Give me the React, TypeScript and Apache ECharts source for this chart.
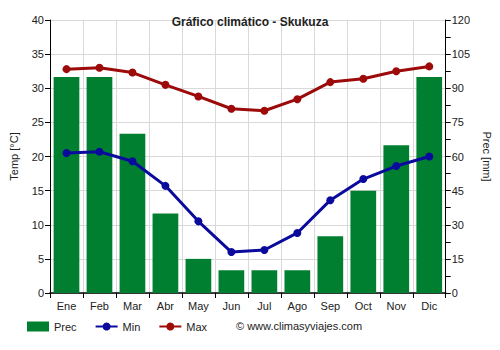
import React, { useEffect, useRef } from "react";
import * as echarts from "echarts";

const months = ["Ene", "Feb", "Mar", "Abr", "May", "Jun", "Jul", "Ago", "Sep", "Oct", "Nov", "Dic"];
const prec = [95, 95, 70, 35, 15, 10, 10, 10, 25, 45, 65, 95];
const tMin = [20.5, 20.7, 19.3, 15.7, 10.5, 6.0, 6.3, 8.8, 13.6, 16.7, 18.6, 20.0];
const tMax = [32.8, 33.0, 32.3, 30.5, 28.8, 27.0, 26.7, 28.4, 30.9, 31.4, 32.5, 33.2];

const FONT = "'Liberation Sans', Arial, sans-serif";

export default function App() {
  const ref = useRef<HTMLDivElement>(null);
  useEffect(() => {
    if (!ref.current) return;
    const chart = echarts.init(ref.current, null, { renderer: "svg" });
    chart.setOption({
      animation: false,
      textStyle: { fontFamily: FONT },
      title: {
        text: "Gráfico climático - Skukuza",
        left: "center",
        top: 11,
        textStyle: { fontSize: 12, fontWeight: "bold", color: "#222", fontFamily: FONT },
      },
      grid: { left: 48, right: 54, top: 20, bottom: 57, containLabel: false },
      legend: {
        bottom: 13,
        left: 22,
        itemGap: 18,
        itemWidth: 22,
        itemHeight: 10,
        textStyle: { fontSize: 11, color: "#222", fontFamily: FONT },
        data: [
          { name: "Prec", icon: "rect" },
          { name: "Min" },
          { name: "Max" },
        ],
      },
      graphic: [
        {
          type: "text",
          left: 236,
          top: 320,
          style: { text: "© www.climasyviajes.com", fontSize: 11, fill: "#222", fontFamily: FONT },
        },
      ],
      xAxis: {
        type: "category",
        data: months,
        axisLine: { lineStyle: { color: "#000", width: 1.5 } },
        axisTick: { show: true, alignWithLabel: false, lineStyle: { color: "#000" } },
        axisLabel: { fontSize: 11, color: "#222", margin: 7 },
        splitLine: { show: true, interval: 0, lineStyle: { color: "#d9d9d9" } },
      },
      yAxis: [
        {
          type: "value",
          min: 0,
          max: 40,
          interval: 5,
          name: "Temp [°C]",
          nameLocation: "middle",
          nameGap: 31,
          nameRotate: 90,
          nameTextStyle: { fontSize: 11, color: "#222" },
          axisLine: { show: true, lineStyle: { color: "#000" } },
          axisTick: { show: true, lineStyle: { color: "#000" } },
          axisLabel: { fontSize: 11, color: "#222", margin: 6 },
          splitLine: { show: true, lineStyle: { color: "#d9d9d9" } },
        },
        {
          type: "value",
          min: 0,
          max: 120,
          interval: 15,
          name: "Prec [mm]",
          nameLocation: "middle",
          nameGap: 32,
          nameRotate: -90,
          nameTextStyle: { fontSize: 11, color: "#222" },
          axisLine: { show: true, lineStyle: { color: "#000" } },
          axisTick: { show: true, lineStyle: { color: "#000" } },
          minorTick: { show: true, splitNumber: 2, length: 5, lineStyle: { color: "#000" } },
          axisLabel: { fontSize: 11, color: "#222", margin: 6 },
          splitLine: { show: false },
        },
      ],
      series: [
        {
          name: "Prec",
          type: "bar",
          yAxisIndex: 1,
          data: prec,
          barCategoryGap: "22%",
          itemStyle: { color: "#007f31" },
          z: 1,
        },
        {
          name: "Min",
          type: "line",
          yAxisIndex: 0,
          data: tMin,
          symbol: "circle",
          symbolSize: 8,
          lineStyle: { color: "#0a0a9c", width: 3 },
          itemStyle: { color: "#0a0a9c" },
          z: 3,
        },
        {
          name: "Max",
          type: "line",
          yAxisIndex: 0,
          data: tMax,
          symbol: "circle",
          symbolSize: 8,
          lineStyle: { color: "#9c0a0a", width: 3 },
          itemStyle: { color: "#9c0a0a" },
          z: 3,
        },
      ],
    });
    return () => chart.dispose();
  }, []);
  return <div ref={ref} style={{ width: 500, height: 350, position: "absolute", left: 0, top: 0 }} />;
}
